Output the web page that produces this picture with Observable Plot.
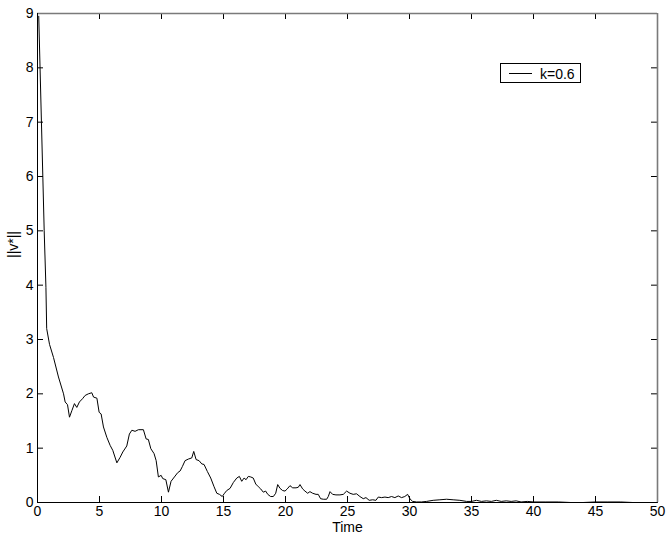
<!DOCTYPE html>
<html>
<head>
<meta charset="utf-8">
<script src="https://cdn.jsdelivr.net/npm/d3@7"></script>
<script src="https://cdn.jsdelivr.net/npm/@observablehq/plot@0.6"></script>
<style>
  html, body { margin: 0; padding: 0; background: white; }
  #chart { width: 671px; height: 542px; }
</style>
</head>
<body>
<div id="chart"></div>
<script>
// Time values (x)
const time = [
  0.1, 0.43, 0.54, 0.68, 0.74, 0.97, 1.29, 1.69, 2.1, 2.23,
  2.42, 2.58, 2.77, 2.98, 3.17, 3.38, 3.63, 3.84, 4.1, 4.38,
  4.52, 4.79, 4.97, 5.13, 5.32, 5.59, 5.86, 6.07, 6.4, 6.66,
  6.88, 7.2, 7.41, 7.61, 7.87, 8.14, 8.54, 8.76, 8.94, 9.14,
  9.4, 9.57, 9.75, 9.97, 10.1, 10.35, 10.56, 10.77, 11.04, 11.31,
  11.5, 11.68, 11.9, 12.17, 12.44, 12.6, 12.79, 13.03, 13.25, 13.43,
  13.7, 13.97, 14.24, 14.46, 14.67, 14.9, 15.05, 15.26, 15.53, 15.8,
  16.07, 16.28, 16.47, 16.66, 16.82, 17.0, 17.2, 17.4, 17.6, 17.81,
  18.0, 18.21, 18.4, 18.57, 18.8, 19.02, 19.21, 19.37, 19.56, 19.77,
  19.96, 20.14, 20.36, 20.58, 20.85, 21.03, 21.17, 21.38, 21.57, 21.79,
  21.97, 22.19, 22.46, 22.64, 22.83, 23.05, 23.32, 23.45, 23.59, 23.8,
  24.07, 24.39, 24.66, 24.93, 25.2, 25.46, 25.73, 26.0, 26.27, 26.49,
  26.75, 27.03, 27.29, 27.48, 27.75, 28.02, 28.28, 28.55, 28.82, 29.09,
  29.36, 29.62, 29.85, 30.03, 30.25, 30.57, 30.97, 31.38, 31.91, 32.45,
  32.99, 33.52, 34.06, 34.6, 35.0, 35.4, 35.8, 36.2, 36.6, 37.0,
  37.4, 37.8, 38.2, 38.6, 39.0, 39.5, 40, 41, 42, 43,
  44, 45, 46, 47, 48, 49, 50
];
// ||v*|| values (y), k=0.6
const vnorm = [
  8.95, 5.99, 5.0, 3.96, 3.2, 2.91, 2.67, 2.31, 2.0, 1.85,
  1.80, 1.57, 1.69, 1.82, 1.75, 1.85, 1.91, 1.97, 2.0, 2.02,
  1.94, 1.92, 1.66, 1.63, 1.39, 1.2, 1.05, 0.96, 0.73, 0.83,
  0.93, 1.04, 1.26, 1.33, 1.31, 1.34, 1.34, 1.17, 1.16, 0.99,
  0.9, 0.77, 0.47, 0.5, 0.44, 0.42, 0.19, 0.39, 0.47, 0.55,
  0.58, 0.66, 0.77, 0.80, 0.82, 0.94, 0.79, 0.77, 0.71, 0.70,
  0.57, 0.45, 0.29, 0.17, 0.15, 0.11, 0.16, 0.22, 0.26, 0.37,
  0.45, 0.48, 0.39, 0.45, 0.42, 0.48, 0.47, 0.45, 0.34, 0.29,
  0.25, 0.19, 0.21, 0.15, 0.11, 0.11, 0.17, 0.33, 0.26, 0.22,
  0.21, 0.25, 0.31, 0.27, 0.27, 0.28, 0.33, 0.25, 0.21, 0.17,
  0.20, 0.17, 0.15, 0.15, 0.07, 0.06, 0.06, 0.11, 0.20, 0.15,
  0.14, 0.14, 0.15, 0.21, 0.17, 0.15, 0.16, 0.11, 0.07, 0.09,
  0.04, 0.05, 0.04, 0.10, 0.09, 0.10, 0.09, 0.11, 0.09, 0.12,
  0.09, 0.11, 0.15, 0.07, 0.02, 0.01, 0.01, 0.02, 0.04, 0.05,
  0.06, 0.05, 0.04, 0.02, 0.02, 0.04, 0.02, 0.03, 0.02, 0.04,
  0.02, 0.03, 0.02, 0.03, 0.01, 0.02, 0.01, 0.01, 0.01, 0.0,
  0.0, 0.01, 0.01, 0.01, 0.0, 0.0, 0.0
];
const xTicks = [0, 5, 10, 15, 20, 25, 30, 35, 40, 45, 50];
const yTicks = [0, 1, 2, 3, 4, 5, 6, 7, 8, 9];
const xLabel = "Time";
const yLabel = "||v*||";
const seriesName = "k=0.6";

const data = time.map((t, i) => ({t, v: vnorm[i]}));

const W = 671, H = 542, ML = 37, MR = 14, MT = 13, MB = 40;
const FW = W - ML - MR, FH = H - MT - MB, TICK = 6;

const svg = Plot.plot({
  width: W,
  height: H,
  marginLeft: ML,
  marginRight: MR,
  marginTop: MT,
  marginBottom: MB,
  style: {fontFamily: "'Liberation Sans', Arial, Helvetica, sans-serif", fontSize: "14px", background: "white", color: "black", overflow: "visible"},
  x: {domain: [0, 50]},
  y: {domain: [0, 9]},
  marks: [
    Plot.line(data, {x: "t", y: "v", stroke: "black", strokeWidth: 1}),
    // inward ticks on all four sides
    Plot.tickX(xTicks, {x: d => d, stroke: "black", insetTop: FH - TICK}),
    Plot.tickX(xTicks, {x: d => d, stroke: "black", insetBottom: FH - TICK}),
    Plot.tickY(yTicks, {y: d => d, stroke: "black", insetRight: FW - TICK}),
    Plot.tickY(yTicks, {y: d => d, stroke: "black", insetLeft: FW - TICK}),
    // box
    Plot.ruleY([9], {stroke: "#7a7a7a", strokeWidth: 1.6}),
    Plot.ruleX([50], {stroke: "#7a7a7a", strokeWidth: 1.6}),
    Plot.ruleY([0], {stroke: "black", strokeWidth: 1}),
    Plot.ruleX([0], {stroke: "black", strokeWidth: 1}),
    // tick labels
    Plot.axisX(xTicks, {anchor: "bottom", tickSize: 0, tickPadding: 4, label: null, fontSize: 14, tickFormat: d => String(d)}),
    Plot.axisY(yTicks, {anchor: "left", tickSize: 0, tickPadding: 4, label: null, fontSize: 14, tickFormat: d => String(d)}),
    // axis titles
    Plot.text([xLabel], {frameAnchor: "bottom", dy: 29, fontSize: 14, fill: "black"}),
    Plot.text([yLabel], {frameAnchor: "left", dx: -24, rotate: -90, fontSize: 14, fill: "black"})
  ]
});

// Legend
const g = d3.select(svg).append("g").attr("class", "legend");
g.append("rect").attr("x", 500.5).attr("y", 63.5).attr("width", 80).attr("height", 19)
  .attr("fill", "white").attr("stroke", "black").attr("stroke-width", 1);
g.append("line").attr("x1", 509).attr("x2", 532).attr("y1", 73.5).attr("y2", 73.5)
  .attr("stroke", "black").attr("stroke-width", 1);
g.append("text").attr("x", 540).attr("y", 78.5).attr("font-size", 14).attr("fill", "black")
  .attr("text-anchor", "start")
  .text(seriesName);

document.getElementById("chart").appendChild(svg);
</script>
</body>
</html>
